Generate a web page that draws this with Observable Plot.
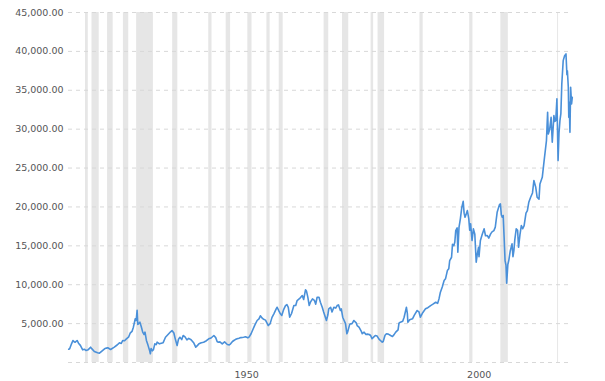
<!DOCTYPE html>
<html>
<head>
<meta charset="utf-8">
<script src="https://cdn.jsdelivr.net/npm/d3@7"></script>
<script src="https://cdn.jsdelivr.net/npm/@observablehq/plot@0.6"></script>
<style>
  html, body { margin: 0; padding: 0; background: #fff; }
  #chart svg { display: block; }
</style>
</head>
<body>
<div id="chart"></div>
<script>
// Dow Jones Industrial Average, inflation-adjusted
const years = [
  1915.0,1915.2,1915.6,1915.9,1916.2,1916.4,1916.8,1917.1,1917.5,1918.0,1918.4,1918.7,1919.2,1919.7,
  1920.0,1920.5,1921.2,1921.6,1922.0,1922.7,1923.1,1923.4,1924.0,1924.8,1925.4,1925.9,1926.3,1926.6,
  1927.0,1927.4,1927.9,1928.2,1928.6,1928.9,1929.3,1929.5,1929.7,1929.85,1930.0,1930.3,1930.6,1930.9,
  1931.2,1931.4,1931.7,1932.0,1932.4,1932.55,1932.7,1933.0,1933.2,1933.5,1933.8,1934.0,1934.5,1934.9,
  1935.3,1935.8,1936.5,1936.9,1937.2,1937.6,1937.9,1938.3,1938.6,1938.9,1939.3,1939.6,1940.0,1940.4,
  1940.8,1941.3,1941.9,1942.3,1942.7,1943.0,1943.5,1944.0,1944.6,1945.1,1945.6,1946.2,1946.6,1946.9,
  1947.1,1947.5,1948.0,1948.5,1949.1,1949.5,1949.8,1950.2,1950.5,1950.8,1951.2,1951.6,1952.0,1952.6,
  1953.0,1953.5,1953.8,1954.2,1954.5,1955.0,1955.5,1955.9,1956.2,1956.6,1956.9,1957.3,1957.9,1958.3,
  1958.7,1959.1,1959.6,1959.8,1960.2,1960.5,1960.8,1961.2,1961.6,1961.9,1962.2,1962.5,1962.9,1963.4,
  1963.8,1964.1,1964.6,1965.2,1965.5,1965.9,1966.1,1966.4,1966.7,1967.0,1967.4,1967.8,1968.1,1968.4,
  1968.8,1969.1,1969.5,1969.8,1970.4,1970.7,1970.9,1971.3,1971.6,1972.0,1972.4,1972.7,1973.0,1973.4,
  1973.6,1973.9,1974.2,1974.5,1974.8,1975.0,1975.4,1975.6,1975.9,1976.3,1976.8,1977.0,1977.4,1977.9,
  1978.1,1978.5,1978.9,1979.2,1979.6,1979.9,1980.2,1980.6,1980.9,1981.3,1981.7,1982.0,1982.4,1982.6,
  1983.0,1983.3,1983.7,1984.2,1984.6,1984.9,1985.3,1985.8,1986.0,1986.3,1986.8,1987.1,1987.6,1987.8,
  1987.9,1988.3,1988.9,1989.3,1989.9,1990.3,1990.6,1991.1,1991.7,1992.2,1992.8,1993.3,1993.9,1994.3,
  1994.6,1994.9,1995.3,1995.7,1996.0,1996.4,1996.7,1996.9,1997.3,1997.5,1997.8,1998.0,1998.2,1998.5,
  1998.65,1998.9,1999.2,1999.5,1999.8,2000.0,2000.2,2000.4,2000.7,2001.0,2001.2,2001.4,2001.7,2002.0,
  2002.3,2002.6,2002.8,2003.1,2003.2,2003.5,2003.9,2004.3,2004.6,2005.0,2005.3,2005.7,2006.0,2006.4,
  2006.7,2007.1,2007.6,2007.8,2008.0,2008.2,2008.4,2008.6,2008.8,2009.0,2009.15,2009.4,2009.6,2009.9,
  2010.3,2010.5,2010.7,2010.9,2011.2,2011.5,2011.7,2012.0,2012.3,2012.6,2012.9,2013.3,2013.6,2013.9,
  2014.3,2014.7,2015.0,2015.4,2015.7,2016.1,2016.3,2016.8,2017.2,2017.7,2017.95,2018.1,2018.4,2018.7,
  2018.95,2019.3,2019.5,2019.7,2019.95,2020.2,2020.4,2020.6,2020.8,2021.0,2021.3,2021.6,2021.9,2022.1,
  2022.2,2022.4,2022.5,2022.6,2022.75,2022.9,2023.1,2023.25
];
const dow = [
  1700,1760,2400,2830,2650,2610,2830,2480,2200,1630,1700,1540,1650,1970,
  1750,1410,1250,1200,1410,1760,1850,1890,1670,1970,2250,2530,2450,2830,
  2800,3040,3300,3770,4000,4540,5620,5400,6700,4900,4970,5180,4600,3900,
  3600,3900,2830,2300,1500,1120,1800,1500,1630,2400,2300,2610,2400,2480,
  2550,3250,3690,3950,4110,3800,3040,2180,3000,3250,2950,3470,3300,2900,
  3100,2920,2500,1970,2200,2400,2550,2610,2800,3040,3150,3470,3200,2700,
  2610,2650,2400,2650,2310,2250,2400,2700,2830,2950,3050,3120,3200,3250,
  3300,3170,3300,3700,4110,4800,5400,5600,6000,5700,5560,5450,4750,5000,
  5800,6260,6900,7100,6600,6260,6040,6800,7320,7450,7100,5820,6300,7320,
  7320,7970,8200,8610,8100,9340,9200,8400,7320,7800,8180,8000,7500,8390,
  8390,7750,7100,6500,5400,6100,6900,7100,6500,7100,7000,7320,7400,6680,
  6900,5820,5400,5000,3690,4000,4900,4970,5000,5400,5100,4750,4540,4000,
  3700,3900,3600,3650,3600,3470,3050,3300,3470,3400,3000,2830,2610,2700,
  3500,3690,3650,3470,3350,3550,3900,4200,5050,5180,5300,5820,7100,6300,
  5180,5500,5620,6100,6680,6500,5820,6400,6900,7050,7320,7500,7750,7600,
  8180,9040,9700,10540,10760,11820,12040,13110,13530,15200,15030,15500,16960,17300,
  14170,17380,18500,19950,20720,19200,18670,19000,19530,18500,17000,17820,15680,17180,
  16500,12890,13800,14810,13600,15680,16500,17180,16300,16320,16000,16540,16800,16960,
  17400,19310,20300,20390,19000,18670,18900,16100,13110,12500,10190,12600,13110,14300,
  15250,13600,14390,15800,17180,17000,14810,16400,17600,17200,17600,19200,19530,20600,
  21240,21800,23390,22530,21240,21000,22960,23810,25960,28530,32160,29390,30000,31520,
  28310,31740,31000,31100,33890,25960,29500,31100,32000,35810,38810,39450,39670,37000,
  37520,35380,31520,33500,29590,35380,33240,34090
];

// US recessions (NBER), decimal years
const recessionStart = [1918.6,1920.0,1923.35,1926.75,1929.6,1937.35,1945.1,1948.85,1953.5,1957.6,1960.25,1969.9,1973.85,1980.0,1981.5,1990.5,2001.2,2007.9,2020.1];
const recessionEnd   = [1919.2,1921.55,1924.55,1927.9,1933.2,1938.45,1945.8,1949.8,1954.4,1958.3,1961.1,1970.9,1975.2,1980.55,1982.9,1991.2,2001.9,2009.5,2020.3];

const yGrid = [0,5000,10000,15000,20000,25000,30000,35000,40000,45000];
const yTickValues = [5000,10000,15000,20000,25000,30000,35000,40000,45000];
const xTickValues = [1950,2000];

const data = years.map((y, i) => ({year: y, value: dow[i]}));
const recessions = recessionStart.map((s, i) => ({start: s, end: recessionEnd[i]}));

const fmt = d3.format(",.2f");

const chart = Plot.plot({
  width: 605,
  height: 381,
  marginLeft: 68,
  marginRight: 33,
  marginTop: 12,
  marginBottom: 19,
  style: {fontFamily: "'DejaVu Sans', Verdana, sans-serif", fontSize: "9.5px", color: "#555", background: "#fff"},
  x: {domain: [1914.95, 2023.3], label: null},
  y: {domain: [0, 45000], label: null},
  marks: [
    Plot.rect(recessions, {x1: "start", x2: "end", fill: "#e6e6e6"}),
    Plot.gridY(yGrid, {stroke: "#d8d8d8", strokeOpacity: 1, strokeDasharray: "4,4", strokeWidth: 1}),
    Plot.line(data, {x: "year", y: "value", stroke: "#4a90d9", strokeWidth: 1.6, strokeLinejoin: "round"}),
    Plot.axisY({ticks: yTickValues, tickSize: 0, tickPadding: 5, tickFormat: d => fmt(d), label: null}),
    Plot.axisX({ticks: xTickValues, tickSize: 0, tickPadding: 9, textAnchor: "start", dx: 3, tickFormat: d => String(d), label: null})
  ]
});
document.getElementById("chart").appendChild(chart);
</script>
</body>
</html>
